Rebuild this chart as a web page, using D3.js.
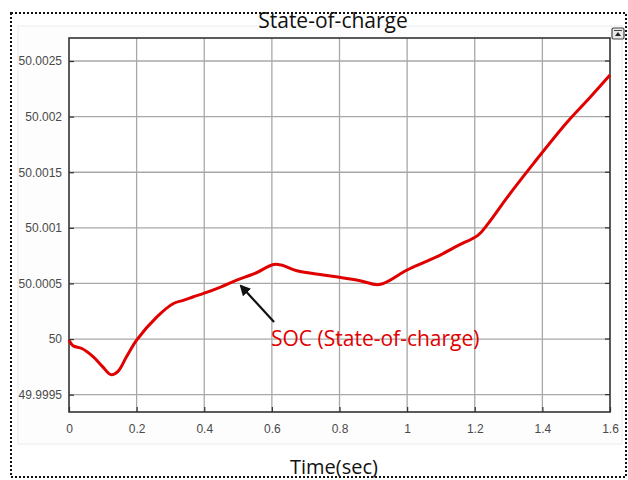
<!DOCTYPE html>
<html>
<head>
<meta charset="utf-8">
<script src="https://cdn.jsdelivr.net/npm/d3@7"></script>
<style>
  html, body { margin: 0; padding: 0; background: #ffffff; }
  svg { display: block; }
</style>
</head>
<body>
<svg id="chart" width="628" height="480"></svg>
<script>
// Battery state-of-charge trace (percent) over simulation time (s)
const timeSec = [0, 0.012, 0.038, 0.072, 0.100, 0.124, 0.145, 0.170, 0.200, 0.260, 0.309, 0.340, 0.368, 0.398, 0.450, 0.496, 0.550, 0.605, 0.628, 0.674, 0.752, 0.800, 0.861, 0.918, 0.999, 1.050, 1.098, 1.150, 1.210, 1.240, 1.295, 1.374, 1.473, 1.540, 1.600];
const socValue = [49.99999, 49.99994, 49.999915, 49.99984, 49.99975, 49.99968, 49.99971, 49.99984, 49.99999, 50.00020, 50.00032, 50.00035, 50.00038, 50.00041, 50.00047, 50.00053, 50.00059, 50.00067, 50.000665, 50.000614, 50.000576, 50.000555, 50.000525, 50.00049, 50.00062, 50.00069, 50.000755, 50.00084, 50.000935, 50.00104, 50.00127, 50.00158, 50.00195, 50.00217, 50.002374];

const xTicks = [0, 0.2, 0.4, 0.6, 0.8, 1, 1.2, 1.4, 1.6];
const yTicks = [49.9995, 50, 50.0005, 50.001, 50.0015, 50.002, 50.0025];
const yTickLabels = ["49.9995", "50", "50.0005", "50.001", "50.0015", "50.002", "50.0025"];

const titleText = "State-of-charge";
const xLabelText = "Time(sec)";
const annotationText = "SOC (State-of-charge)";
const annotationPoint = [0.5, 50.00053];

const svg = d3.select("#chart");
const plot = { left: 69, right: 610, top: 38, bottom: 412 };

const x = d3.scaleLinear().domain([0, 1.6]).range([plot.left, plot.right]);
const y = d3.scaleLinear().domain([49.999344, 50.002707]).range([plot.bottom, plot.top]);

// outer dotted frame
svg.append("rect")
  .attr("x", 11).attr("y", 13).attr("width", 615).attr("height", 464)
  .attr("fill", "none").attr("stroke", "#111").attr("stroke-width", 2)
  .attr("stroke-dasharray", "2,2");

// figure panel
svg.append("rect")
  .attr("x", 18).attr("y", 26).attr("width", 604).attr("height", 418)
  .attr("fill", "#fdfdfd").attr("stroke", "#ececec").attr("stroke-width", 1);

// axes background
svg.append("rect")
  .attr("x", plot.left).attr("y", plot.top)
  .attr("width", plot.right - plot.left).attr("height", plot.bottom - plot.top)
  .attr("fill", "#ffffff");

// grid
const grid = svg.append("g").attr("stroke", "#a8a8a8").attr("stroke-width", 1.3);
grid.selectAll("line.v").data(xTicks.slice(1, -1)).join("line")
  .attr("class", "v")
  .attr("x1", d => x(d)).attr("x2", d => x(d))
  .attr("y1", plot.top).attr("y2", plot.bottom);
grid.selectAll("line.h").data(yTicks).join("line")
  .attr("class", "h")
  .attr("x1", plot.left).attr("x2", plot.right)
  .attr("y1", d => y(d)).attr("y2", d => y(d));

// axes with inward ticks
const tickFont = "Arial, 'Liberation Sans', sans-serif";
const xAxis = svg.append("g")
  .attr("transform", `translate(0,${plot.bottom})`)
  .call(d3.axisBottom(x).tickValues(xTicks).tickSize(-5).tickPadding(12).tickFormat(d3.format("")));
const yAxis = svg.append("g")
  .attr("transform", `translate(${plot.left},0)`)
  .call(d3.axisLeft(y).tickValues(yTicks).tickSize(-5).tickPadding(7).tickFormat((d, i) => yTickLabels[i]));
[xAxis, yAxis].forEach(g => {
  g.select(".domain").remove();
  g.selectAll(".tick line").attr("stroke", "#333").attr("stroke-width", 1.2);
  g.selectAll(".tick text").attr("fill", "#4a4a4a")
    .style("font-family", tickFont).style("font-size", "12px");
});

// right-side tick marks
svg.append("g").selectAll("line").data(yTicks).join("line")
  .attr("x1", plot.right - 5).attr("x2", plot.right)
  .attr("y1", d => y(d)).attr("y2", d => y(d))
  .attr("stroke", "#333").attr("stroke-width", 1.2);

// axes box
svg.append("rect")
  .attr("x", plot.left).attr("y", plot.top)
  .attr("width", plot.right - plot.left).attr("height", plot.bottom - plot.top)
  .attr("fill", "none").attr("stroke", "#333").attr("stroke-width", 1.6);

// SOC line
const line = d3.line()
  .x((d, i) => x(timeSec[i]))
  .y(d => y(d))
  .curve(d3.curveCatmullRom.alpha(0.5));
svg.append("path")
  .datum(socValue)
  .attr("d", line)
  .attr("fill", "none")
  .attr("stroke", "#e00000")
  .attr("stroke-width", 3)
  .attr("stroke-linejoin", "round");

// annotation arrow
svg.append("defs").append("marker")
  .attr("id", "arrowHead")
  .attr("viewBox", "0 0 10 10")
  .attr("refX", 8).attr("refY", 5)
  .attr("markerWidth", 5).attr("markerHeight", 5)
  .attr("orient", "auto")
  .append("path").attr("d", "M0,0 L10,5 L0,10 Z").attr("fill", "#111");

const tipX = x(annotationPoint[0]) + 3;
const tipY = y(annotationPoint[1]) + 6;
svg.append("line")
  .attr("x1", tipX + 33).attr("y1", tipY + 36)
  .attr("x2", tipX).attr("y2", tipY)
  .attr("stroke", "#111").attr("stroke-width", 2.2)
  .attr("marker-end", "url(#arrowHead)");

svg.append("text")
  .attr("x", 271).attr("y", 346)
  .attr("fill", "#e00000")
  .style("font-family", "'Open Sans', 'Noto Sans', sans-serif")
  .style("font-size", "21px")
  .text(annotationText);

// title and x label
const labelFont = "'Open Sans', 'Noto Sans', sans-serif";
svg.append("text")
  .attr("x", 333).attr("y", 28)
  .attr("text-anchor", "middle")
  .attr("fill", "#111")
  .style("font-family", labelFont).style("font-size", "21px")
  .text(titleText);
svg.append("text")
  .attr("x", 334).attr("y", 474)
  .attr("text-anchor", "middle")
  .attr("fill", "#111")
  .style("font-family", labelFont).style("font-size", "20px")
  .text(xLabelText);

// small toolbar button at the top-right corner
const btn = svg.append("g").attr("transform", "translate(612,28)");
btn.append("rect").attr("width", 12).attr("height", 11).attr("rx", 1.5)
  .attr("fill", "#e8e8e8").attr("stroke", "#444").attr("stroke-width", 1.2);
btn.append("path").attr("d", "M3,8 L6,4 L9,8 Z").attr("fill", "#222");
btn.append("line").attr("x1", 2).attr("x2", 10).attr("y1", 2.5).attr("y2", 2.5)
  .attr("stroke", "#444").attr("stroke-width", 1);
</script>
</body>
</html>
